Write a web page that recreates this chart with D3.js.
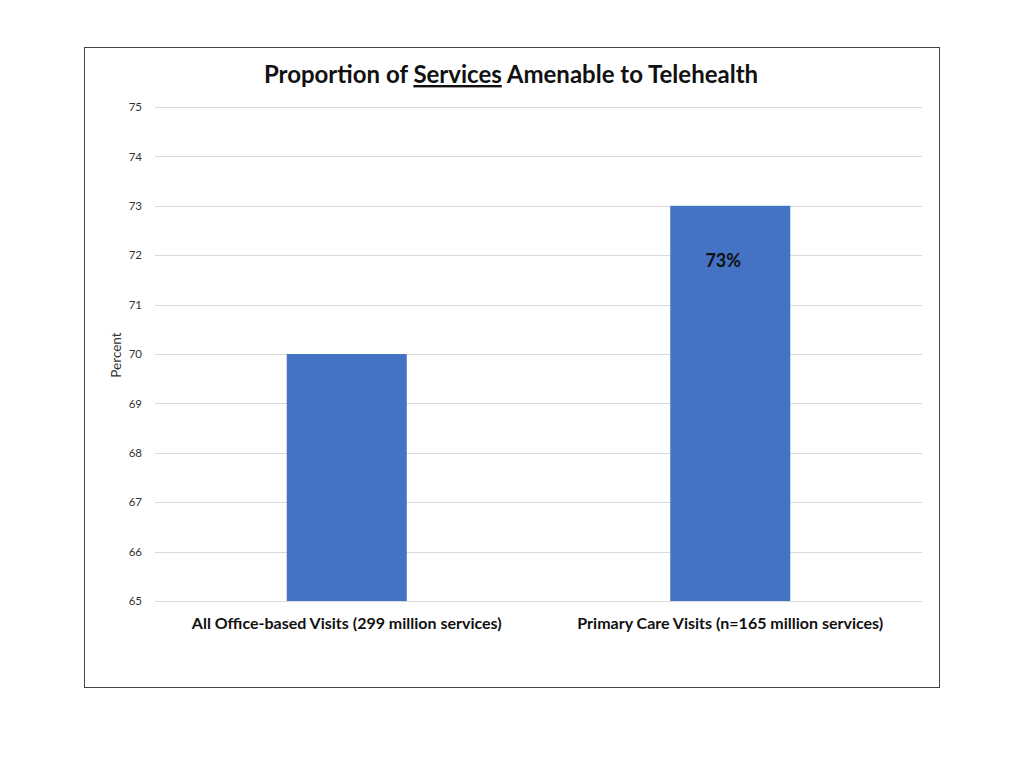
<!DOCTYPE html>
<html><head><meta charset="utf-8">
<script src="https://cdn.jsdelivr.net/npm/d3@7"></script>
<style>body{margin:0;background:#fff;} svg{display:block;font-family:Lato, "Open Sans", sans-serif;}</style>
</head><body><svg id="c" width="1024" height="768"></svg>
<script>
const categories = ["All Office-based Visits (299 million services)", "Primary Care Visits (n=165 million services)"];
const values = [70, 73];
const dataLabels = ["", "73%"];
const yTicks = [65, 66, 67, 68, 69, 70, 71, 72, 73, 74, 75];

const svg = d3.select("#c");
svg.append("rect").attr("x", 84.5).attr("y", 47.5).attr("width", 855).attr("height", 640)
  .attr("fill", "#fff").attr("stroke", "#444").attr("stroke-width", 1);

const m = {left: 155, right: 922, top: 107, bottom: 601};
const x = d3.scaleBand().domain(categories).range([m.left, m.right]).paddingInner(0.687).paddingOuter(0.3435);
const y = d3.scaleLinear().domain([65, 75]).range([m.bottom, m.top]);

// gridlines
svg.append("g").selectAll("line").data(yTicks).join("line")
  .attr("x1", m.left).attr("x2", m.right)
  .attr("y1", d => Math.round(y(d)) + 0.5).attr("y2", d => Math.round(y(d)) + 0.5)
  .attr("stroke", "#d9d9d9").attr("stroke-width", 1);

// y axis labels
const yAxis = d3.axisLeft(y).tickValues(yTicks).tickSize(0).tickPadding(0).tickFormat(d3.format("d"));
const ga = svg.append("g").attr("transform", `translate(${m.left - 13},0)`).call(yAxis);
ga.select(".domain").remove();
ga.selectAll("text").attr("font-size", 11.5).attr("fill", "#333").attr("font-family", "Lato, sans-serif");

// bars
svg.append("g").selectAll("rect").data(values).join("rect")
  .attr("x", (d, i) => x(categories[i])).attr("width", x.bandwidth())
  .attr("y", d => y(d)).attr("height", d => y(65) - y(d))
  .attr("fill", "#4472c4");

// data labels
svg.append("g").selectAll("text").data(values).join("text")
  .attr("x", (d, i) => x(categories[i]) + x.bandwidth() / 2 - 7)
  .attr("y", d => y(d) + 61)
  .attr("text-anchor", "middle").attr("font-size", 18).attr("font-weight", "bold").attr("fill", "#111")
  .text((d, i) => dataLabels[i]);

// x axis labels
const xAxis = d3.axisBottom(x).tickSize(0).tickPadding(0);
const gx = svg.append("g").attr("transform", `translate(0,${m.bottom + 17})`).call(xAxis);
gx.select(".domain").remove();
gx.selectAll("text").attr("font-size", 16).attr("font-weight", "bold").attr("fill", "#111")
  .attr("font-family", "Lato, sans-serif");

// y label
svg.append("text").attr("transform", "translate(121,355) rotate(-90)")
  .attr("text-anchor", "middle").attr("font-size", 13.5).attr("fill", "#333").text("Percent");

// title
const t = svg.append("text").attr("x", 511).attr("y", 83).attr("text-anchor", "middle")
  .attr("font-size", 24).attr("font-weight", "bold").attr("fill", "#111");
t.append("tspan").text("Proportion of ");
t.append("tspan").attr("text-decoration", "underline").text("Services");
t.append("tspan").text(" Amenable to Telehealth");
</script></body></html>
